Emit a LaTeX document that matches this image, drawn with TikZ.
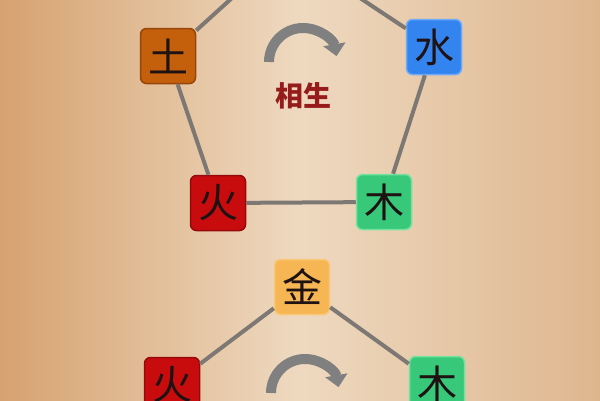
\documentclass[tikz,border=0pt]{standalone}
\usepackage{fontspec}
\newfontfamily\cjk{Noto Sans CJK SC}
\usetikzlibrary{arrows.meta}
\definecolor{bgL}{RGB}{214,162,112}
\definecolor{bgM}{RGB}{238,217,192}
\definecolor{bgR}{RGB}{222,182,142}
\definecolor{lineg}{RGB}{125,120,115}
\definecolor{arrowg}{RGB}{128,128,128}
\definecolor{tuC}{RGB}{196,96,12}
\definecolor{tuB}{RGB}{150,70,10}
\definecolor{shuiC}{RGB}{52,132,240}
\definecolor{shuiB}{RGB}{110,170,250}
\definecolor{huoC}{RGB}{200,12,14}
\definecolor{huoB}{RGB}{150,8,10}
\definecolor{muC}{RGB}{56,200,122}
\definecolor{muB}{RGB}{120,225,160}
\definecolor{jinC}{RGB}{246,182,84}
\definecolor{jinB}{RGB}{250,200,120}
\definecolor{glyph}{RGB}{30,18,18}
\definecolor{titleC}{RGB}{150,28,28}
\tikzset{
  elem/.style={rounded corners=6pt, minimum size=55pt, inner sep=0pt, line width=1.5pt,
    font=\cjk\fontsize{40}{40}\selectfont, text=glyph},
  link/.style={draw=lineg, line width=4pt},
  cyc/.style={draw=arrowg, line width=10pt, -{Triangle[length=12pt,width=22pt]}},
}
\begin{document}
\begin{tikzpicture}[x=1pt,y=-1pt]
\useasboundingbox (0,0) rectangle (600,400);
\clip (0,0) rectangle (600,400);
\shade[left color=bgL, right color=bgR, middle color=bgM] (0,0) rectangle (600,400);
% top pentagon
\node[elem, fill=tuC, draw=tuB] (tu) at (168,56) {土};
\node[elem, fill=shuiC, draw=shuiB] (shui) at (434,47) {水};
\node[elem, fill=huoC, draw=huoB] (huo) at (218,203) {火};
\node[elem, fill=muC, draw=muB] (mu) at (384,202) {木};
\coordinate (top) at (286,-51);
\draw[link] (tu) -- (top);
\draw[link] (shui) -- (top);
\draw[link] (tu) -- (huo);
\draw[link] (shui) -- (mu);
\draw[link] (huo) -- (mu);
\draw[cyc] (269,62) arc[start angle=180, end angle=350, radius=34];
\node[font=\cjk\bfseries\fontsize{28}{28}\selectfont, text=titleC] (title) at (303,96) {相生};
% bottom
\node[elem, fill=jinC, draw=jinB] (jin) at (302,287) {金};
\node[elem, fill=huoC, draw=huoB] (huo2) at (172,385) {火};
\node[elem, fill=muC, draw=muB] (mu2) at (437,384) {木};
\draw[link] (jin) -- (huo2);
\draw[link] (jin) -- (mu2);
\draw[cyc] (271,393) arc[start angle=180, end angle=350, radius=34];
\end{tikzpicture}
\end{document}
